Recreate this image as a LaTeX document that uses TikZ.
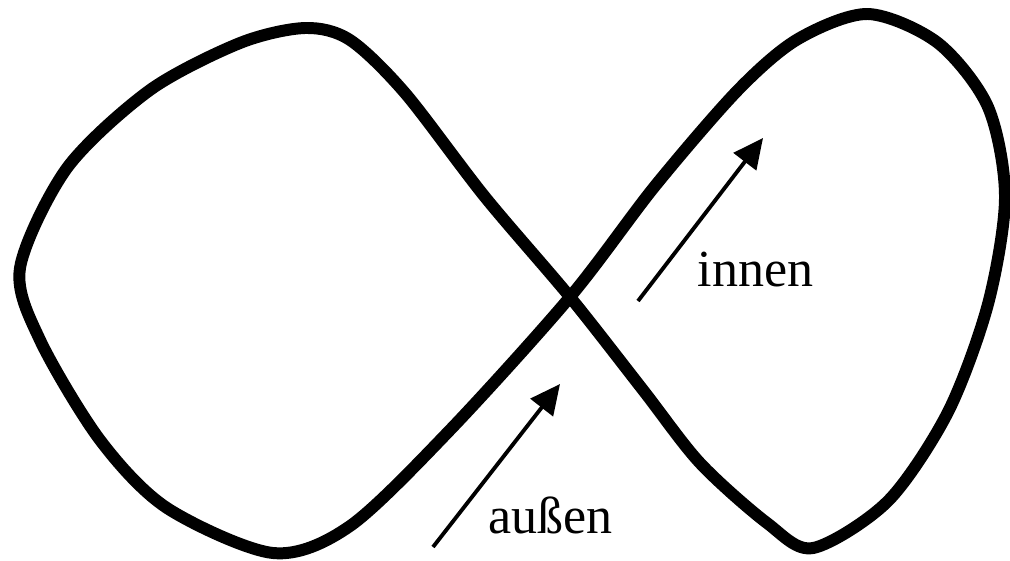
\documentclass[tikz,border=0pt]{standalone}
\usepackage{fontspec}
\setmainfont{Liberation Serif}
\usetikzlibrary{arrows.meta}

\begin{document}
\begin{tikzpicture}[x=0.01cm, y=-0.01cm,
  loop/.style={line width=3.4pt, line join=round},
  arr/.style={-{Triangle[length=8.5pt, width=8pt]}, line width=1.1pt},
  lbl/.style={anchor=base west, inner sep=0pt, font=\fontsize{14.8}{17}\selectfont},
]
  \useasboundingbox (0,0) rectangle (1010,560);

  % figure eight
  \draw[loop] plot[smooth cycle, tension=0.5] coordinates {
    (570,297) (655,186) (738,90) (798,39) (868,14) (938,43) (988,107)
    (1005,197) (988,304) (948,412) (888,501) (813,548) (767,523) (700,463)
    (643,390) (570,297) (485,197) (405,93) (350,40) (305,28) (240,43)
    (150,90) (67,168) (20,268) (40,340) (100,440) (167,508) (273,553)
    (350,526) (450,430)};

  \coordinate (aussentail) at (433,547);
  \coordinate (aussentip) at (560,384);
  \coordinate (innentail) at (638,301);
  \coordinate (innentip) at (763,138);

  \draw[arr] (aussentail) -- (aussentip);
  \draw[arr] (innentail) -- (innentip);

  \node[lbl] (innen) at (697,286) {innen};
  \node[lbl] (aussen) at (488,533) {außen};
\end{tikzpicture}
\end{document}
